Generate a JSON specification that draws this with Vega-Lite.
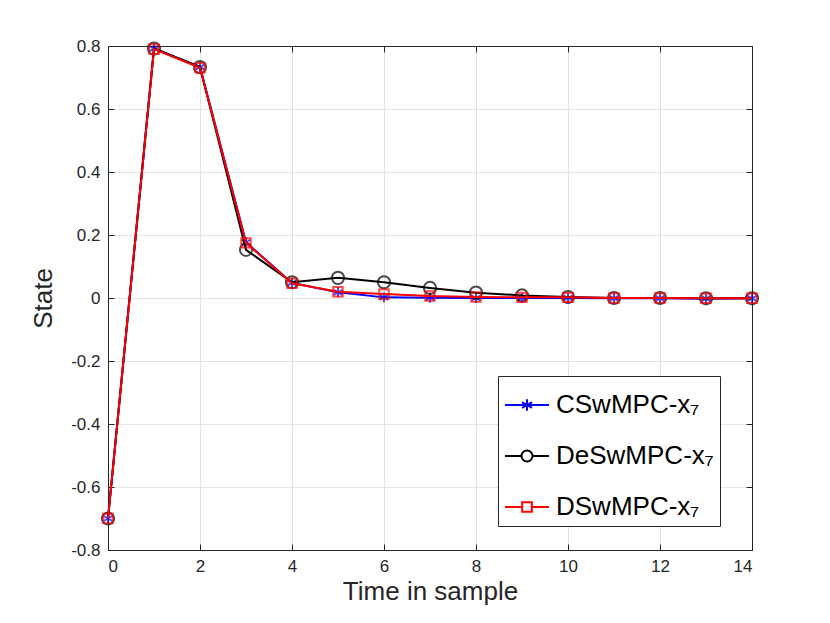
{
  "$schema": "https://vega.github.io/schema/vega-lite/v6.json",
  "width": 644,
  "height": 504,
  "autosize": "none",
  "padding": {"left": 108, "top": 46, "right": 78, "bottom": 73},
  "background": "white",
  "data": {
    "values": [
      {"t": 0, "series": "CSwMPC-x₇", "value": -0.700},
      {"t": 1, "series": "CSwMPC-x₇", "value": 0.792},
      {"t": 2, "series": "CSwMPC-x₇", "value": 0.733},
      {"t": 3, "series": "CSwMPC-x₇", "value": 0.177},
      {"t": 4, "series": "CSwMPC-x₇", "value": 0.048},
      {"t": 5, "series": "CSwMPC-x₇", "value": 0.018},
      {"t": 6, "series": "CSwMPC-x₇", "value": 0.002},
      {"t": 7, "series": "CSwMPC-x₇", "value": 0.001},
      {"t": 8, "series": "CSwMPC-x₇", "value": 0.000},
      {"t": 9, "series": "CSwMPC-x₇", "value": 0.000},
      {"t": 10, "series": "CSwMPC-x₇", "value": 0.000},
      {"t": 11, "series": "CSwMPC-x₇", "value": -0.001},
      {"t": 12, "series": "CSwMPC-x₇", "value": -0.001},
      {"t": 13, "series": "CSwMPC-x₇", "value": -0.002},
      {"t": 14, "series": "CSwMPC-x₇", "value": -0.001},
      {"t": 0, "series": "DeSwMPC-x₇", "value": -0.700},
      {"t": 1, "series": "DeSwMPC-x₇", "value": 0.792},
      {"t": 2, "series": "DeSwMPC-x₇", "value": 0.733},
      {"t": 3, "series": "DeSwMPC-x₇", "value": 0.153},
      {"t": 4, "series": "DeSwMPC-x₇", "value": 0.050},
      {"t": 5, "series": "DeSwMPC-x₇", "value": 0.064},
      {"t": 6, "series": "DeSwMPC-x₇", "value": 0.050},
      {"t": 7, "series": "DeSwMPC-x₇", "value": 0.032},
      {"t": 8, "series": "DeSwMPC-x₇", "value": 0.017},
      {"t": 9, "series": "DeSwMPC-x₇", "value": 0.008},
      {"t": 10, "series": "DeSwMPC-x₇", "value": 0.003},
      {"t": 11, "series": "DeSwMPC-x₇", "value": 0.000},
      {"t": 12, "series": "DeSwMPC-x₇", "value": 0.000},
      {"t": 13, "series": "DeSwMPC-x₇", "value": -0.001},
      {"t": 14, "series": "DeSwMPC-x₇", "value": -0.001},
      {"t": 0, "series": "DSwMPC-x₇", "value": -0.700},
      {"t": 1, "series": "DSwMPC-x₇", "value": 0.790},
      {"t": 2, "series": "DSwMPC-x₇", "value": 0.731},
      {"t": 3, "series": "DSwMPC-x₇", "value": 0.175},
      {"t": 4, "series": "DSwMPC-x₇", "value": 0.047},
      {"t": 5, "series": "DSwMPC-x₇", "value": 0.020},
      {"t": 6, "series": "DSwMPC-x₇", "value": 0.013},
      {"t": 7, "series": "DSwMPC-x₇", "value": 0.006},
      {"t": 8, "series": "DSwMPC-x₇", "value": 0.003},
      {"t": 9, "series": "DSwMPC-x₇", "value": 0.002},
      {"t": 10, "series": "DSwMPC-x₇", "value": 0.002},
      {"t": 11, "series": "DSwMPC-x₇", "value": 0.000},
      {"t": 12, "series": "DSwMPC-x₇", "value": 0.000},
      {"t": 13, "series": "DSwMPC-x₇", "value": -0.001},
      {"t": 14, "series": "DSwMPC-x₇", "value": -0.001}
    ]
  },
  "layer": [
    {
      "encoding": {
        "x": {
          "field": "t",
          "type": "quantitative",
          "scale": {"domain": [0, 14], "nice": false, "zero": false},
          "axis": {
            "orient": "bottom",
            "values": [0, 2, 4, 6, 8, 10, 12, 14],
            "title": "Time in sample",
            "titlePadding": 4
          }
        },
        "y": {
          "field": "value",
          "type": "quantitative",
          "scale": {"domain": [-0.8, 0.8], "nice": false, "zero": false},
          "axis": {
            "orient": "left",
            "values": [-0.8, -0.6, -0.4, -0.2, 0, 0.2, 0.4, 0.6, 0.8],
            "labelExpr": "replace(format(datum.value, '.1~f'), '−', '-')",
            "title": "State",
            "titlePadding": 14
          }
        }
      },
      "layer": [
        {
          "transform": [{"filter": "datum.series === 'CSwMPC-x₇'"}],
          "mark": {"type": "line", "strokeWidth": 2},
          "encoding": {
            "color": {
              "field": "series",
              "type": "nominal",
              "scale": {
                "domain": ["CSwMPC-x₇", "DeSwMPC-x₇", "DSwMPC-x₇"],
                "range": ["#0000ff", "#000000", "#ff0000"]
              },
              "legend": {
                "orient": "none",
                "legendX": 390,
                "legendY": 330,
                "title": null,
                "symbolSize": 1936,
                "symbolStrokeWidth": 2,
                "encode": {
                  "symbols": {
                    "update": {
                      "shape": {"signal": "datum.value === 'CSwMPC-x₇' ? 'M-1,0H1M0,-0.26V0.26M-0.23,-0.13L0.23,0.13M-0.23,0.13L0.23,-0.13' : datum.value === 'DeSwMPC-x₇' ? 'M-1,0H-0.25M0.25,0H1M0.25,0A0.25,0.25 0 1,1 -0.25,0A0.25,0.25 0 1,1 0.25,0' : 'M-1,0H-0.22M0.22,0H1M-0.22,-0.22H0.22V0.22H-0.22Z'"},
                      "fill": {"value": "transparent"},
                      "strokeWidth": {"value": 2}
                    }
                  }
                }
              }
            }
          }
        },
        {
          "transform": [{"filter": "datum.series === 'CSwMPC-x₇'"}],
          "mark": {"type": "point", "filled": false, "strokeWidth": 2, "stroke": "#0000ff", "size": 100, "shape": "M0,-1V1M-0.87,-0.5L0.87,0.5M-0.87,0.5L0.87,-0.5"}
        },
        {
          "transform": [{"filter": "datum.series === 'DeSwMPC-x₇'"}],
          "mark": {"type": "line", "strokeWidth": 2},
          "encoding": {"color": {"field": "series", "type": "nominal"}}
        },
        {
          "transform": [{"filter": "datum.series === 'DeSwMPC-x₇'"}],
          "mark": {"type": "point", "filled": false, "strokeWidth": 2, "stroke": "#000000", "size": 150, "shape": "circle"}
        },
        {
          "transform": [{"filter": "datum.series === 'DSwMPC-x₇'"}],
          "mark": {"type": "line", "strokeWidth": 2},
          "encoding": {"color": {"field": "series", "type": "nominal"}}
        },
        {
          "transform": [{"filter": "datum.series === 'DSwMPC-x₇'"}],
          "mark": {"type": "point", "filled": false, "strokeWidth": 2, "stroke": "#ff0000", "size": 90, "shape": "square"}
        }
      ]
    },
    {
      "mark": {"type": "point", "opacity": 0},
      "encoding": {
        "x": {
          "field": "t",
          "type": "quantitative",
          "axis": {"orient": "top", "values": [0, 2, 4, 6, 8, 10, 12, 14], "labels": false, "title": null, "grid": false}
        },
        "y": {
          "field": "value",
          "type": "quantitative",
          "axis": {"orient": "right", "values": [-0.8, -0.6, -0.4, -0.2, 0, 0.2, 0.4, 0.6, 0.8], "labels": false, "title": null, "grid": false}
        }
      }
    }
  ],
  "resolve": {"axis": {"x": "independent", "y": "independent"}},
  "config": {
    "font": "Liberation Sans",
    "view": {"stroke": "#262626", "strokeWidth": 1},
    "axis": {
      "domainColor": "#262626",
      "domainWidth": 1,
      "tickColor": "#262626",
      "tickSize": -6,
      "tickWidth": 1,
      "gridColor": "#e3e3e3",
      "gridWidth": 1,
      "labelFont": "Liberation Sans",
      "labelFontSize": 17,
      "labelColor": "#262626",
      "labelPadding": 14,
      "titleFont": "Liberation Sans",
      "titleFontSize": 26,
      "titleFontWeight": "normal",
      "titleColor": "#262626"
    },
    "legend": {
      "labelFont": "Liberation Sans",
      "labelFontSize": 26,
      "labelColor": "#000000",
      "labelLimit": 400,
      "strokeColor": "#262626",
      "fillColor": "white",
      "padding": 6,
      "rowPadding": 15,
      "labelOffset": 6
    }
  }
}
